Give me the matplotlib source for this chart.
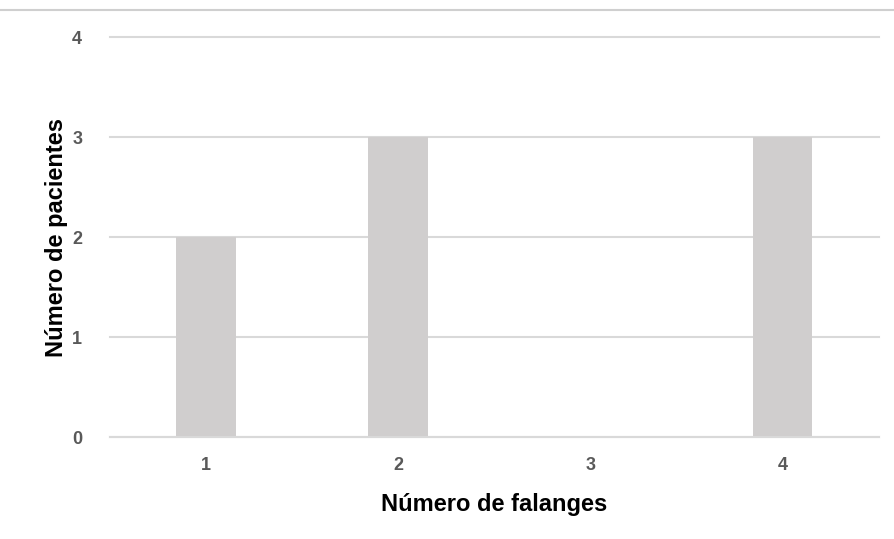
import matplotlib
matplotlib.use("Agg")
import matplotlib.pyplot as plt
from matplotlib.lines import Line2D

plt.rcParams['font.family'] = ['Liberation Sans', 'DejaVu Sans']

# datos
falanges = ["1", "2", "3", "4"]
pacientes = [2, 3, 0, 3]
yticks = [0, 1, 2, 3, 4]

fig = plt.figure(figsize=(8.94, 5.39), dpi=100)
ax = fig.add_axes([0.123, 0.189, 0.860, 0.742])

x = range(len(falanges))
ax.bar(x, pacientes, width=0.31, color="#d0cece", zorder=2)

ax.set_xlim(-0.5, len(falanges) - 0.5)
ax.set_ylim(0, 4)
ax.set_yticks(yticks)
ax.set_xticks(list(x))
ax.set_xticklabels(falanges)

ax.grid(axis="y", color="#d9d9d9", linewidth=1.5, zorder=0)
for gl in ax.yaxis.get_gridlines():
    gl.set_clip_on(False)
ax.set_axisbelow(True)
for s in ["top", "right", "left"]:
    ax.spines[s].set_visible(False)
ax.spines["bottom"].set_color("#d9d9d9")
ax.spines["bottom"].set_linewidth(1.5)
ax.tick_params(length=0, labelsize=13, colors="#595959")
for lab in ax.get_xticklabels() + ax.get_yticklabels():
    lab.set_fontweight("bold")
ax.tick_params(axis="y", pad=20)
ax.tick_params(axis="x", pad=14)

ax.set_xlabel("Número de falanges", fontsize=17, fontweight="bold", labelpad=14)
ax.set_ylabel("Número de pacientes", fontsize=17, fontweight="bold", labelpad=3)

# linea superior
fig.add_artist(Line2D([0, 1], [0.981, 0.981], transform=fig.transFigure,
                      color="#cfcfcf", linewidth=1.5))

fig.savefig("out.png", dpi=100)
